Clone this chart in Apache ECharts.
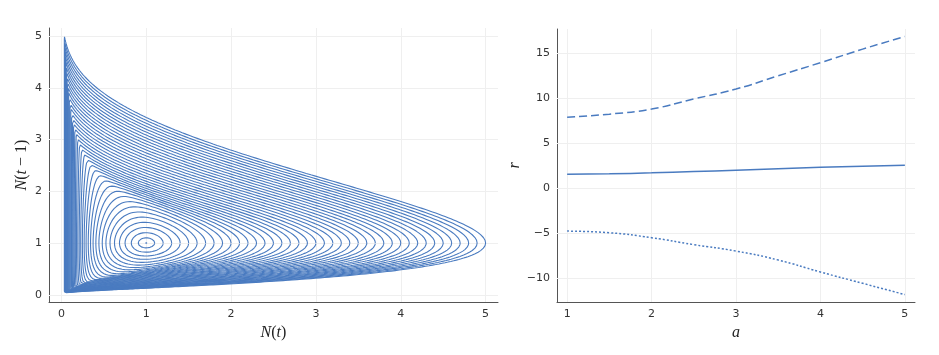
<!DOCTYPE html>
<html>
<head>
<meta charset="utf-8">
<script src="https://cdn.jsdelivr.net/npm/echarts@6/dist/echarts.min.js"></script>
<style>
html, body { margin: 0; padding: 0; background: #fff; }
#main { width: 939px; height: 355px; }
</style>
</head>
<body>
<div id="main"></div>
<script>
var startN = [1.0, 1.1, 1.2, 1.3, 1.4, 1.5, 1.6, 1.7, 1.8, 1.9,
  2.0, 2.1, 2.2, 2.3, 2.4, 2.5, 2.6, 2.7, 2.8, 2.9,
  3.0, 3.1, 3.2, 3.3, 3.4, 3.5, 3.6, 3.7, 3.8, 3.9,
  4.0, 4.1, 4.2, 4.3, 4.4, 4.5, 4.6, 4.7, 4.8, 4.9, 5.0];
var leftTicks = [0, 1, 2, 3, 4, 5];

// right panel
var aVals = [1, 1.5, 2, 2.5, 3, 3.5, 4, 4.5, 5];
var rUpper = [7.85, 8.2, 8.77, 9.88, 10.98, 12.45, 13.9, 15.4, 16.8];
var rMid = [1.55, 1.6, 1.7, 1.84, 1.99, 2.16, 2.32, 2.44, 2.54];
var rLower = [-4.75, -4.93, -5.48, -6.25, -6.96, -7.95, -9.28, -10.53, -11.78];
var aTicks = [1, 2, 3, 4, 5];
var rTicks = [-10, -5, 0, 5, 10, 15];

var blue = '#4a7bc0';
var gridColor = '#efefef';

function G(v) { return v - Math.log(v); }

// inverse of v - ln v, on the branch above 1 (hi) or below 1
function invG(g, hi) {
  var lo = hi ? 1 : 1e-14, up = hi ? g + 3 : 1;
  for (var i = 0; i < 70; i++) {
    var mid = (lo + up) / 2;
    var d = G(mid) - g;
    if (hi) { if (d > 0) up = mid; else lo = mid; }
    else { if (d > 0) lo = mid; else up = mid; }
  }
  return (lo + up) / 2;
}

// closed curve through (x0, 1); both N values enter through v - ln v,
// small orbits are round, large ones lean over to the left edge
function orbit(x0) {
  var s0 = Math.sqrt(2 * (G(x0) - 1));
  var beta = 1 - Math.exp(-Math.pow(s0 / 0.9, 2.9));
  var up = [], dn = [];
  var n = 400;
  for (var i = 0; i <= n; i++) {
    var ph = Math.PI * i / n;
    var X = (1 - beta) * Math.cos(ph) + beta * (ph <= Math.PI / 2 ? Math.cos(2 * ph) : -1);
    var sx = s0 * X, sy = s0 * Math.sin(ph);
    var x = invG(1 + sx * sx / 2, sx >= 0);
    var gy = 1 + sy * sy / 2;
    up.push([x, invG(gy, true)]);
    dn.push([x, invG(gy, false)]);
  }
  return up.concat(dn.reverse());
}

var tickFont = { fontFamily: 'DejaVu Sans', fontSize: 11, color: '#333' };
var nameFont = {
  fontFamily: 'Liberation Serif', fontSize: 16, color: '#222',
  rich: { i: { fontFamily: 'Liberation Serif', fontStyle: 'italic', fontSize: 16, color: '#222' } }
};

// faint grid drawn under everything
function gridSeries(idx, xs, ys) {
  return {
    type: 'line', xAxisIndex: idx, yAxisIndex: idx, silent: true, z: 1,
    data: [],
    markLine: {
      z: 1, silent: true, symbol: 'none', animation: false,
      label: { show: false },
      lineStyle: { color: gridColor, width: 1, type: 'solid' },
      data: xs.map(function (v) { return { xAxis: v }; })
        .concat(ys.map(function (v) { return { yAxis: v }; }))
    }
  };
}

function minus(v) { return String(v).replace('-', '\u2212'); }

var series = [gridSeries(0, leftTicks, leftTicks), gridSeries(1, aTicks, rTicks)];
startN.forEach(function (x0) {
  if (x0 <= 1) {
    series.push({
      type: 'scatter', xAxisIndex: 0, yAxisIndex: 0, silent: true, z: 3,
      symbolSize: 2, itemStyle: { color: blue }, data: [[1, 1]]
    });
    return;
  }
  series.push({
    type: 'line', xAxisIndex: 0, yAxisIndex: 0, silent: true, z: 3,
    showSymbol: false, lineStyle: { color: blue, width: 1.1 },
    data: orbit(x0)
  });
});

function rSeries(vals, dash) {
  return {
    type: 'line', xAxisIndex: 1, yAxisIndex: 1, silent: true, z: 3,
    showSymbol: false, smooth: true,
    lineStyle: { color: blue, width: 1.5, type: dash },
    data: aVals.map(function (a, i) { return [a, vals[i]]; })
  };
}
series.push(rSeries(rMid, 'solid'));
series.push(rSeries(rUpper, [8, 4]));
series.push(rSeries(rLower, [2, 2]));

function valAxis(idx, min, max, ticks, name, gap) {
  return {
    type: 'value', gridIndex: idx, min: min, max: max,
    name: name, nameLocation: 'middle', nameGap: gap, nameTextStyle: nameFont,
    axisLine: { show: true, onZero: false, lineStyle: { color: '#555', width: 1 } },
    axisTick: { show: false },
    splitLine: { show: false },
    axisLabel: Object.assign({ customValues: ticks, formatter: minus, margin: 7 }, tickFont)
  };
}

var option = {
  animation: false,
  backgroundColor: '#fff',
  grid: [
    { left: 49, top: 28, width: 449, height: 274 },
    { left: 557, top: 29, width: 358, height: 273 }
  ],
  xAxis: [
    valAxis(0, -0.146, 5.146, leftTicks, '{i|N}({i|t})', 16),
    valAxis(1, 0.88, 5.12, aTicks, '{i|a}', 18)
  ],
  yAxis: [
    valAxis(0, -0.14, 5.155, leftTicks, '{i|N}({i|t} \u2212 1)', 19),
    valAxis(1, -12.6, 17.63, rTicks, '{i|r}', 33)
  ],
  series: series
};
option.yAxis[0].nameRotate = 90;
option.yAxis[1].nameRotate = 90;

var myChart = echarts.init(document.getElementById('main'), null, { renderer: 'canvas' });
myChart.setOption(option, true);
</script>
</body>
</html>
